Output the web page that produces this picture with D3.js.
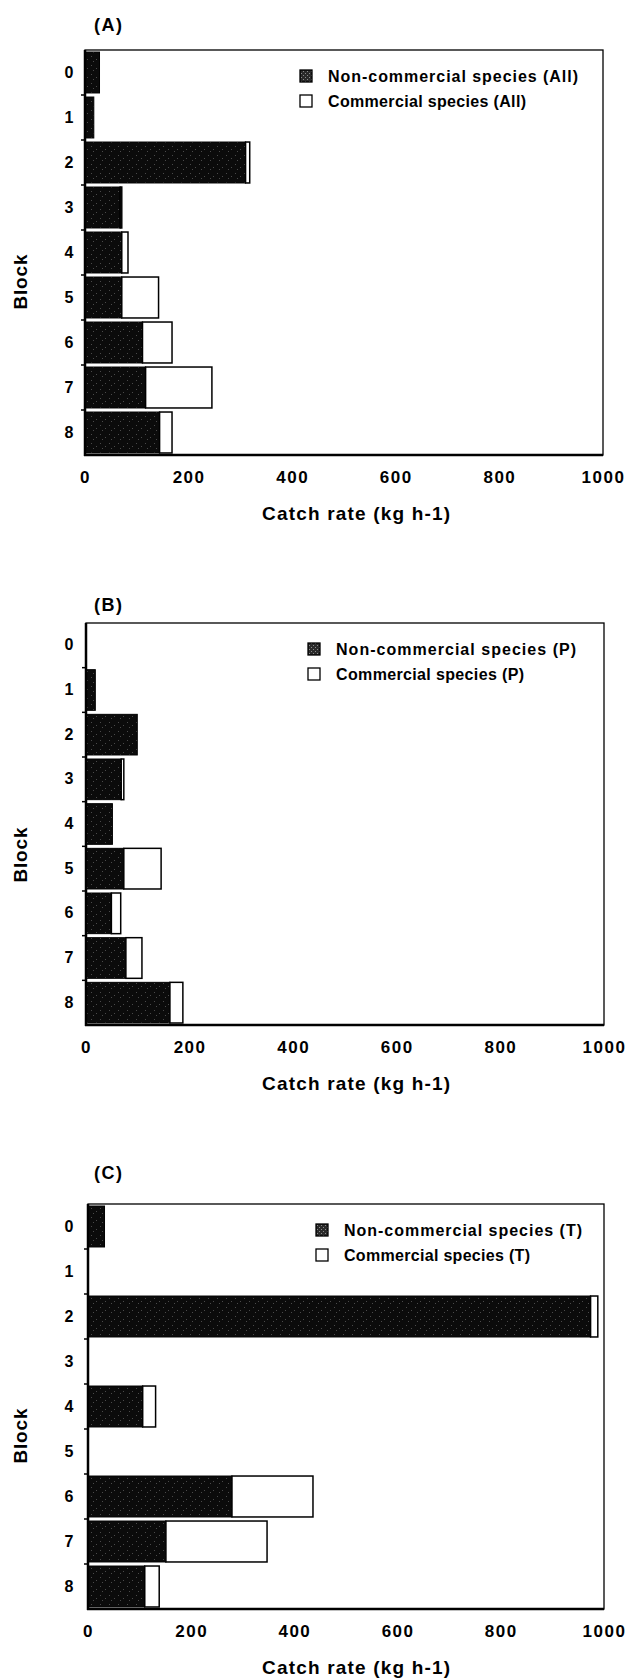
<!DOCTYPE html>
<html>
<head>
<meta charset="utf-8">
<script src="https://cdn.jsdelivr.net/npm/d3@7"></script>
<style>
  body { margin: 0; background: #fff; }
  svg { display: block; font-family: "Liberation Sans", Arial, sans-serif; }
</style>
</head>
<body>
<script>
// data (catch rate, kg h-1)
var blocks = ["0", "1", "2", "3", "4", "5", "6", "7", "8"];
var xTicks = [0, 200, 400, 600, 800, 1000];

var nonCommA = [28, 17, 310, 68, 71, 71, 111, 117, 144];
var commA    = [0, 0, 8, 3, 12, 71, 57, 128, 24];

var nonCommP = [0, 18, 99, 68, 51, 73, 49, 77, 162];
var commP    = [0, 0, 0, 5, 0, 72, 18, 31, 25];

var nonCommT = [32, 0, 974, 0, 106, 0, 279, 151, 110];
var commT    = [0, 0, 14, 0, 25, 0, 157, 196, 28];

var panelLabels = ["(A)", "(B)", "(C)"];
var groupTags = ["All", "P", "T"];

// layout of each panel (plot box)
var panels = [
  {nc: nonCommA, c: commA, top: 50,   bottom: 455,  left: 85, right: 603, titleY: 25,   legX: 300, legEnd: 578},
  {nc: nonCommP, c: commP, top: 623,  bottom: 1025, left: 86, right: 604, titleY: 605,  legX: 308, legEnd: 576},
  {nc: nonCommT, c: commT, top: 1204, bottom: 1609, left: 88, right: 604, titleY: 1173, legX: 316, legEnd: 582}
];

var svg = d3.select("body").append("svg")
    .attr("width", 625)
    .attr("height", 1680);

// near-black speckled fill for the non-commercial bars
var defs = svg.append("defs");
var pat = defs.append("pattern")
    .attr("id", "stip")
    .attr("patternUnits", "userSpaceOnUse")
    .attr("width", 9).attr("height", 9);
pat.append("rect").attr("width", 9).attr("height", 9).attr("fill", "#0b0b0b");
[[1, 2], [6, 5], [3, 7]].forEach(function(p) {
  pat.append("rect").attr("x", p[0]).attr("y", p[1]).attr("width", 1).attr("height", 1).attr("fill", "#4a4a4a");
});
var pat2 = defs.append("pattern")
    .attr("id", "stipLeg")
    .attr("patternUnits", "userSpaceOnUse")
    .attr("width", 4).attr("height", 4);
pat2.append("rect").attr("width", 4).attr("height", 4).attr("fill", "#2a2a2a");
pat2.append("rect").attr("x", 1).attr("y", 1).attr("width", 1).attr("height", 1).attr("fill", "#8a8a8a");
pat2.append("rect").attr("x", 3).attr("y", 3).attr("width", 1).attr("height", 1).attr("fill", "#8a8a8a");

panels.forEach(function(p, i) {
  var g = svg.append("g");

  var x = d3.scaleLinear().domain([0, 1000]).range([p.left, p.right]);
  var y = d3.scaleBand().domain(blocks).range([p.top, p.bottom])
      .paddingInner(0.09).paddingOuter(0.045);

  // panel letter
  g.append("text")
      .attr("x", 94).attr("y", p.titleY)
      .attr("dy", "0.35em")
      .attr("textLength", 28)
      .attr("lengthAdjust", "spacing")
      .style("font-size", "18px").style("font-weight", "bold")
      .text(panelLabels[i]);

  // bars: non-commercial then commercial stacked on top
  g.selectAll(".nc").data(blocks).enter().append("rect")
      .attr("x", x(0))
      .attr("y", function(d) { return y(d); })
      .attr("width", function(d, j) { return x(p.nc[j]) - x(0); })
      .attr("height", y.bandwidth())
      .attr("fill", "url(#stip)")
      .attr("stroke", "#000").attr("stroke-width", 1)
      .style("display", function(d, j) { return p.nc[j] > 0 ? null : "none"; });

  g.selectAll(".cm").data(blocks).enter().append("rect")
      .attr("x", function(d, j) { return x(p.nc[j]); })
      .attr("y", function(d) { return y(d); })
      .attr("width", function(d, j) { return x(p.nc[j] + p.c[j]) - x(p.nc[j]); })
      .attr("height", y.bandwidth())
      .attr("fill", "#fff")
      .attr("stroke", "#000").attr("stroke-width", 1.5)
      .style("display", function(d, j) { return p.c[j] > 0 ? null : "none"; });

  // plot box
  g.append("rect")
      .attr("x", p.left).attr("y", p.top)
      .attr("width", p.right - p.left).attr("height", p.bottom - p.top)
      .attr("fill", "none").attr("stroke", "#000").attr("stroke-width", 1.3);
  g.append("line")
      .attr("x1", p.left).attr("x2", p.left).attr("y1", p.top).attr("y2", p.bottom + 1)
      .attr("stroke", "#000").attr("stroke-width", 2.5);
  g.append("line")
      .attr("x1", p.left - 1).attr("x2", p.right).attr("y1", p.bottom).attr("y2", p.bottom)
      .attr("stroke", "#000").attr("stroke-width", 2.5);

  // small ticks between the blocks
  var step = y.step();
  g.selectAll(".bt").data(blocks.slice(1)).enter().append("line")
      .attr("x1", p.left - 4).attr("x2", p.left)
      .attr("y1", function(d) { return y(d) - step * 0.045; })
      .attr("y2", function(d) { return y(d) - step * 0.045; })
      .attr("stroke", "#000").attr("stroke-width", 1.5);

  // y axis labels
  var ya = g.append("g")
      .attr("transform", "translate(" + p.left + ",0)")
      .call(d3.axisLeft(y).tickSize(0));
  ya.select(".domain").remove();
  ya.selectAll("text")
      .attr("x", -(p.left - 69))
      .attr("text-anchor", "middle")
      .style("font-family", "'Liberation Sans', Arial, sans-serif")
      .style("font-size", "16px").style("font-weight", "bold");

  // x axis labels
  var xa = g.append("g")
      .attr("transform", "translate(0," + p.bottom + ")")
      .call(d3.axisBottom(x).tickValues(xTicks).tickSize(0).tickFormat(d3.format("d")));
  xa.select(".domain").remove();
  xa.selectAll("text")
      .attr("y", 22).attr("dy", "0.35em")
      .style("font-family", "'Liberation Sans', Arial, sans-serif")
      .style("font-size", "17px").style("font-weight", "bold")
      .style("letter-spacing", "1.5px");

  // axis titles
  g.append("text")
      .attr("transform", "translate(20," + (p.top + 232) + ") rotate(-90)")
      .attr("dy", "0.35em")
      .attr("text-anchor", "middle")
      .attr("textLength", 55)
      .attr("lengthAdjust", "spacing")
      .style("font-size", "19px").style("font-weight", "bold")
      .text("Block");

  g.append("text")
      .attr("x", 356).attr("y", p.bottom + 58)
      .attr("dy", "0.35em")
      .attr("text-anchor", "middle")
      .attr("textLength", 188)
      .attr("lengthAdjust", "spacing")
      .style("font-size", "19px").style("font-weight", "bold")
      .text("Catch rate (kg h-1)");

  // legend
  var legNames = ["Non-commercial species (" + groupTags[i] + ")",
                  "Commercial species (" + groupTags[i] + ")"];
  var legFill = ["url(#stipLeg)", "#fff"];
  var legW = [p.legEnd - p.legX - 28, p.legEnd - p.legX - 28 - 52];
  legNames.forEach(function(name, k) {
    var ly = p.top + 26 + k * 25;
    g.append("rect")
        .attr("x", p.legX).attr("y", ly - 6)
        .attr("width", 12).attr("height", 12)
        .attr("fill", legFill[k])
        .attr("stroke", "#000").attr("stroke-width", 1.3);
    g.append("text")
        .attr("x", p.legX + 28).attr("y", ly)
        .attr("dy", "0.35em")
        .attr("textLength", legW[k])
        .attr("lengthAdjust", "spacing")
        .style("font-size", "16px").style("font-weight", "bold")
        .text(name);
  });
});
</script>
</body>
</html>
